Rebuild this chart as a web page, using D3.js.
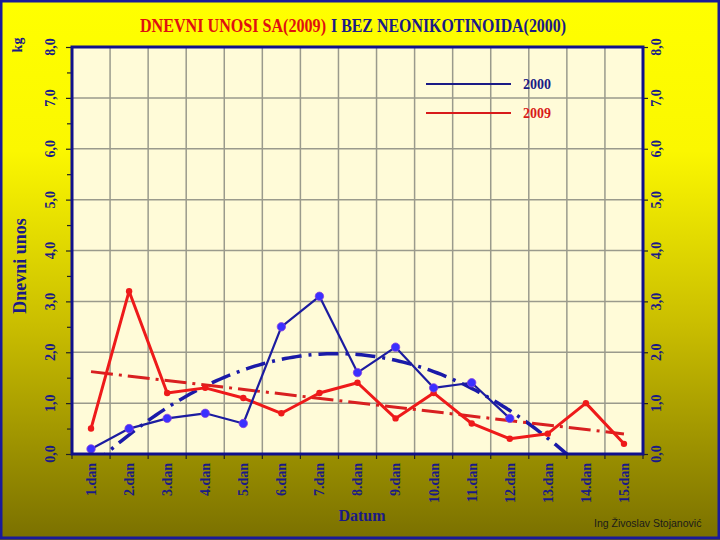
<!DOCTYPE html>
<html>
<head>
<meta charset="utf-8">
<script src="https://cdn.jsdelivr.net/npm/d3@7/dist/d3.min.js"></script>
<style>
  html, body { margin: 0; padding: 0; background: #ffff00; }
  svg { display: block; }
</style>
</head>
<body>
<svg id="chart" width="720" height="540"></svg>
<script>
// ---- data ----
const days = ["1.dan","2.dan","3.dan","4.dan","5.dan","6.dan","7.dan","8.dan","9.dan","10.dan","11.dan","12.dan","13.dan","14.dan","15.dan"];
const series2000 = [0.1, 0.5, 0.7, 0.8, 0.6, 2.5, 3.1, 1.6, 2.1, 1.3, 1.4, 0.7];
const series2009 = [0.5, 3.2, 1.2, 1.3, 1.1, 0.8, 1.2, 1.4, 0.7, 1.2, 0.6, 0.3, 0.4, 1.0, 0.2];
const yTicks = [0, 1, 2, 3, 4, 5, 6, 7, 8];
const yMinorTicks = [0.5, 1.5, 2.5, 3.5, 4.5, 5.5, 6.5, 7.5];
const legendLabels = ["2000", "2009"];
const titleRed = "DNEVNI UNOSI SA(2009)";
const titleBlue = "I BEZ NEONIKOTINOIDA(2000)";

const NAVY = "#1a1a86";
const RED = "#ee1a1a";
const BLUE_LINE = "#1c1ca0";
const SERIF = "'Liberation Serif', 'DejaVu Serif', serif";

const svg = d3.select("#chart");

// background gradient
const defs = svg.append("defs");
const grad = defs.append("linearGradient").attr("id", "bg").attr("x1", 0).attr("y1", 0).attr("x2", 0).attr("y2", 1);
grad.append("stop").attr("offset", "0%").attr("stop-color", "#ffff00");
grad.append("stop").attr("offset", "28%").attr("stop-color", "#fbf700");
grad.append("stop").attr("offset", "60%").attr("stop-color", "#cabe00");
grad.append("stop").attr("offset", "100%").attr("stop-color", "#7a7000");
svg.append("rect").attr("width", 720).attr("height", 540).attr("fill", "url(#bg)");
svg.append("rect").attr("x", 1).attr("y", 1).attr("width", 718).attr("height", 537)
  .attr("fill", "none").attr("stroke", "#1a1a9a").attr("stroke-width", 3);

// plot geometry
const L = 72, R = 643, T = 47, B = 454;
const x = d3.scaleBand().domain(days).range([L, R]).padding(0);
const bw = x.bandwidth();
const cx = d => x(d) + bw / 2;
const xi = d3.scaleLinear().domain([1, days.length]).range([cx(days[0]), cx(days[days.length - 1])]);
const y = d3.scaleLinear().domain([0, 8]).range([B, T]);

defs.append("clipPath").attr("id", "plotclip").append("rect")
  .attr("x", L).attr("y", T).attr("width", R - L).attr("height", B - T);

// plot background
svg.append("rect").attr("x", L).attr("y", T).attr("width", R - L).attr("height", B - T)
  .attr("fill", "#fffbd8");

// gridlines
const grid = svg.append("g");
grid.selectAll("line.h").data(yTicks.filter(v => v > 0 && v < 8)).join("line")
  .attr("x1", L).attr("x2", R).attr("y1", d => y(d)).attr("y2", d => y(d))
  .attr("stroke", "#9a9a8c").attr("stroke-width", 1.5);
grid.selectAll("line.v").data(days.slice(1)).join("line")
  .attr("x1", d => x(d)).attr("x2", d => x(d)).attr("y1", T).attr("y2", B)
  .attr("stroke", "#9a9a8c").attr("stroke-width", 1.5);

// axes ticks
const leftAxis = d3.axisLeft(y).tickValues(yTicks).tickSize(6).tickFormat("");
const gl = svg.append("g").attr("transform", `translate(${L},0)`).call(leftAxis);
gl.select(".domain").remove();
gl.selectAll("line").attr("stroke", "#222").attr("stroke-width", 1.2);
const leftMinor = d3.axisLeft(y).tickValues(yMinorTicks).tickSize(5).tickFormat("");
const glm = svg.append("g").attr("transform", `translate(${L},0)`).call(leftMinor);
glm.select(".domain").remove();
glm.selectAll("line").attr("stroke", "#222").attr("stroke-width", 1.2);

const rightAxis = d3.axisRight(y).tickValues(yTicks).tickSize(5).tickFormat("");
const gr = svg.append("g").attr("transform", `translate(${R},0)`).call(rightAxis);
gr.select(".domain").remove();
gr.selectAll("line").attr("stroke", "#222").attr("stroke-width", 1.2);

const bottomTicks = days.map(d => x(d)).concat([R]);
svg.append("g").selectAll("line").data(bottomTicks).join("line")
  .attr("x1", d => d).attr("x2", d => d).attr("y1", B).attr("y2", B + 5)
  .attr("stroke", "#222").attr("stroke-width", 1.2);

// y tick labels (rotated)
const fmt = v => v.toFixed(1).replace(".", ",");
svg.append("g").selectAll("text").data(yTicks).join("text")
  .attr("transform", d => `translate(50,${y(d)}) rotate(-90)`)
  .attr("text-anchor", "middle").attr("dy", "0.35em")
  .attr("font-family", SERIF).attr("font-weight", "bold").attr("font-size", 14)
  .attr("fill", NAVY).text(fmt);
svg.append("g").selectAll("text").data(yTicks).join("text")
  .attr("transform", d => `translate(656,${y(d)}) rotate(-90)`)
  .attr("text-anchor", "middle").attr("dy", "0.35em")
  .attr("font-family", SERIF).attr("font-weight", "bold").attr("font-size", 14)
  .attr("fill", NAVY).text(fmt);

// x tick labels
svg.append("g").selectAll("text").data(days).join("text")
  .attr("transform", d => `translate(${cx(d)},463) rotate(-90)`)
  .attr("text-anchor", "end").attr("dy", "0.35em")
  .attr("font-family", SERIF).attr("font-weight", "bold").attr("font-size", 14)
  .attr("fill", NAVY).text(d => d);

// axis titles
svg.append("text").attr("x", 362).attr("y", 521).attr("text-anchor", "middle")
  .attr("font-family", SERIF).attr("font-weight", "bold").attr("font-size", 16)
  .attr("fill", NAVY).text("Datum");
svg.append("text").attr("transform", "translate(20,266) rotate(-90)").attr("text-anchor", "middle")
  .attr("dy", "0.35em").attr("font-family", SERIF).attr("font-weight", "bold").attr("font-size", 18)
  .attr("fill", NAVY).text("Dnevni unos");
svg.append("text").attr("transform", "translate(17,45) rotate(-90)").attr("text-anchor", "middle")
  .attr("dy", "0.35em").attr("font-family", SERIF).attr("font-weight", "bold").attr("font-size", 14)
  .attr("fill", NAVY).text("kg");

// title (two parts)
svg.append("text").attr("x", 140).attr("y", 32)
  .attr("font-family", SERIF).attr("font-weight", "bold").attr("font-size", 18)
  .attr("textLength", 186).attr("lengthAdjust", "spacingAndGlyphs")
  .attr("fill", "#e01010").text(titleRed);
svg.append("text").attr("x", 331).attr("y", 32)
  .attr("font-family", SERIF).attr("font-weight", "bold").attr("font-size", 18)
  .attr("textLength", 235).attr("lengthAdjust", "spacingAndGlyphs")
  .attr("fill", NAVY).text(titleBlue);

// trend lines (least squares fits of the data)
function linFit(vals) {
  const xs = vals.map((_, i) => i + 1);
  const mx = d3.mean(xs), my = d3.mean(vals);
  const sxy = d3.sum(xs, (xv, i) => (xv - mx) * (vals[i] - my));
  const sxx = d3.sum(xs, xv => (xv - mx) ** 2);
  const b = sxy / sxx;
  return xv => my + b * (xv - mx);
}
function quadFit(vals) {
  const xs = vals.map((_, i) => i + 1);
  const mx = d3.mean(xs);
  const t = xs.map(v => v - mx);
  const n = vals.length;
  const s2 = d3.sum(t, v => v * v), s4 = d3.sum(t, v => v ** 4);
  const sy = d3.sum(vals), sty = d3.sum(t, (v, i) => v * vals[i]), st2y = d3.sum(t, (v, i) => v * v * vals[i]);
  const b = sty / s2;
  const c = (st2y - s2 * sy / n) / (s4 - s2 * s2 / n);
  const a = (sy - c * s2) / n;
  return xv => a + b * (xv - mx) + c * (xv - mx) ** 2;
}
const plot = svg.append("g").attr("clip-path", "url(#plotclip)");

const qf = quadFit(series2000);
const blueTrendPts = d3.range(1, 14.01, 0.1).map(v => [xi(v), y(qf(v))]);
plot.append("path").attr("d", d3.line()(blueTrendPts)).attr("fill", "none")
  .attr("stroke", "#1a1aa8").attr("stroke-width", 3.5)
  .attr("stroke-dasharray", "20,7,3,7");

const lf = linFit(series2009);
plot.append("path").attr("d", d3.line()([[xi(1), y(lf(1))], [xi(15), y(lf(15))]]))
  .attr("fill", "none").attr("stroke", "#d82020").attr("stroke-width", 3)
  .attr("stroke-dasharray", "22,6,3,6");

// series lines
const line = d3.line().x((d, i) => cx(days[i])).y(d => y(d));
plot.append("path").datum(series2009).attr("d", line).attr("fill", "none")
  .attr("stroke", RED).attr("stroke-width", 3).attr("stroke-linejoin", "round");
plot.append("path").datum(series2000).attr("d", line).attr("fill", "none")
  .attr("stroke", BLUE_LINE).attr("stroke-width", 2.2).attr("stroke-linejoin", "round");

svg.append("g").selectAll("circle").data(series2009).join("circle")
  .attr("cx", (d, i) => cx(days[i])).attr("cy", d => y(d)).attr("r", 3.2)
  .attr("fill", RED);
svg.append("g").selectAll("circle").data(series2000).join("circle")
  .attr("cx", (d, i) => cx(days[i])).attr("cy", d => y(d)).attr("r", 4.2)
  .attr("fill", "#3a30ff").attr("stroke", "#8a40e0").attr("stroke-width", 0.8);

// plot border
svg.append("rect").attr("x", L).attr("y", T).attr("width", R - L).attr("height", B - T)
  .attr("fill", "none").attr("stroke", "#10108c").attr("stroke-width", 3);

// legend
const legColors = [NAVY, "#d81a1a"];
const legY = [84, 113];
const leg = svg.append("g");
legendLabels.forEach((lab, i) => {
  leg.append("line").attr("x1", 426).attr("x2", 511).attr("y1", legY[i]).attr("y2", legY[i])
    .attr("stroke", legColors[i]).attr("stroke-width", 2);
  leg.append("text").attr("x", 523).attr("y", legY[i]).attr("dy", "0.35em")
    .attr("font-family", SERIF).attr("font-weight", "bold").attr("font-size", 14)
    .attr("fill", legColors[i]).text(lab);
});

// credit
svg.append("text").attr("x", 594).attr("y", 527)
  .attr("font-family", "'Liberation Sans', Arial, sans-serif").attr("font-size", 10.5)
  .attr("fill", "#1a1a1a").text("Ing Živoslav Stojanović");
</script>
</body>
</html>
